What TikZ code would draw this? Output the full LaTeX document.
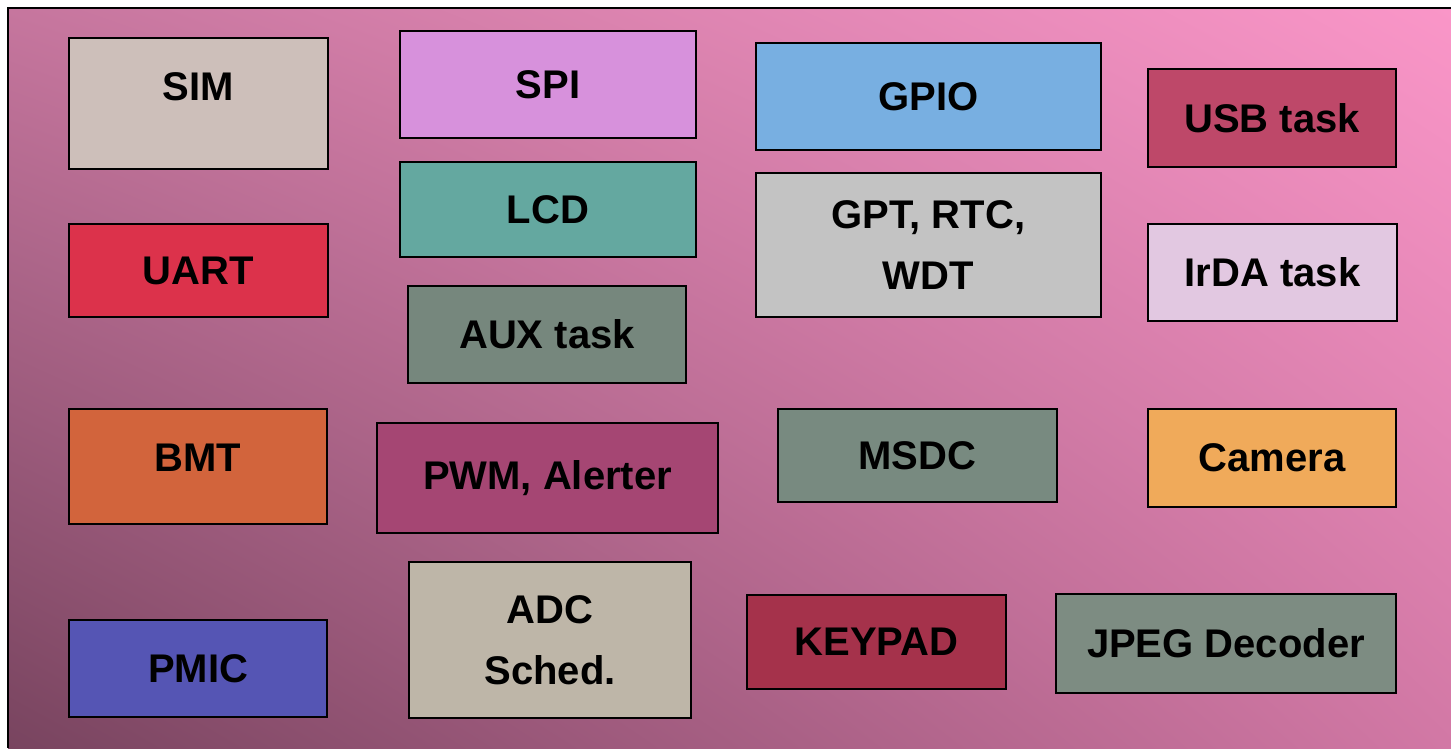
\documentclass[tikz,border=0pt]{standalone}
\usepackage{fontspec}
\setmainfont{Liberation Sans}
\usepackage{tikz}
\usetikzlibrary{positioning,shadings}

% block colours
\definecolor{simc}{RGB}{205,191,186}
\definecolor{spic}{RGB}{215,145,220}
\definecolor{lcdc}{RGB}{100,168,160}
\definecolor{auxc}{RGB}{118,135,125}
\definecolor{gpioc}{RGB}{120,175,225}
\definecolor{gptc}{RGB}{195,195,195}
\definecolor{usbc}{RGB}{190,72,105}
\definecolor{irdac}{RGB}{226,200,225}
\definecolor{uartc}{RGB}{220,50,75}
\definecolor{bmtc}{RGB}{210,100,60}
\definecolor{pwmc}{RGB}{165,70,115}
\definecolor{msdcc}{RGB}{120,138,128}
\definecolor{camc}{RGB}{240,170,90}
\definecolor{pmicc}{RGB}{85,85,180}
\definecolor{adcc}{RGB}{190,182,168}
\definecolor{keyc}{RGB}{165,50,75}
\definecolor{jpegc}{RGB}{125,140,130}
% background colours
\definecolor{bgul}{RGB}{198,118,158}
\definecolor{bgur}{RGB}{250,150,200}
\definecolor{bgll}{RGB}{120,68,95}
\definecolor{bglr}{RGB}{210,120,165}

\begin{document}
\begin{tikzpicture}
  [
    x=1pt, y=-1pt,
    blk/.style n args = {3}{draw = black, line width = 1.5pt, fill = #1,
      minimum width = #2, minimum height = #3, inner sep = 0pt,
      align = center, font = \fontsize{40}{61}\selectfont\bfseries},
  ]

  \useasboundingbox (0,0) rectangle (1451,748);

  % the background
  \shade[upper left = bgul, upper right = bgur,
         lower left = bgll, lower right = bglr] (8,8) rectangle (1451,748);
  \draw[line width = 1.5pt] (8,748) -- (8,8) -- (1451,8);

  % first column
  \node (sim)  at (198.5,103.5) [blk = {simc}{259pt}{131pt}, text depth = 34pt] {SIM};
  \node (uart) at (198.5,270.5) [blk = {uartc}{259pt}{93pt}] {UART};
  \node (bmt)  at (198,466.5)   [blk = {bmtc}{258pt}{115pt}, text depth = 18pt] {BMT};
  \node (pmic) at (198,668.5)   [blk = {pmicc}{258pt}{97pt}] {PMIC};

  % second column
  \node (spi) at (548,84.5)  [blk = {spic}{296pt}{107pt}] {SPI};
  \node (lcd) at (548,209.5) [blk = {lcdc}{296pt}{95pt}] {LCD};
  \node (aux) at (547,334.5) [blk = {auxc}{278pt}{97pt}] {AUX task};
  \node (pwm) at (547.5,478) [blk = {pwmc}{341pt}{110pt}] {PWM, Alerter};
  \node (adc) at (550,640)   [blk = {adcc}{282pt}{156pt}] {ADC\\Sched.};

  % third column
  \node (gpio)   at (928.5,96.5) [blk = {gpioc}{345pt}{107pt}] {GPIO};
  \node (gpt)    at (928.5,245)  [blk = {gptc}{345pt}{144pt}] {GPT, RTC,\\WDT};
  \node (msdc)   at (917.5,455.5) [blk = {msdcc}{279pt}{93pt}] {MSDC};
  \node (keypad) at (876.5,642)  [blk = {keyc}{259pt}{94pt}] {KEYPAD};

  % fourth column
  \node (usb)  at (1272,118)    [blk = {usbc}{248pt}{98pt}] {USB task};
  \node (irda) at (1272.5,272.5) [blk = {irdac}{249pt}{97pt}] {IrDA task};
  \node (cam)  at (1272,458)    [blk = {camc}{248pt}{98pt}] {Camera};
  \node (jpeg) at (1226,643.5)  [blk = {jpegc}{340pt}{99pt}] {JPEG Decoder};
\end{tikzpicture}
\end{document}
